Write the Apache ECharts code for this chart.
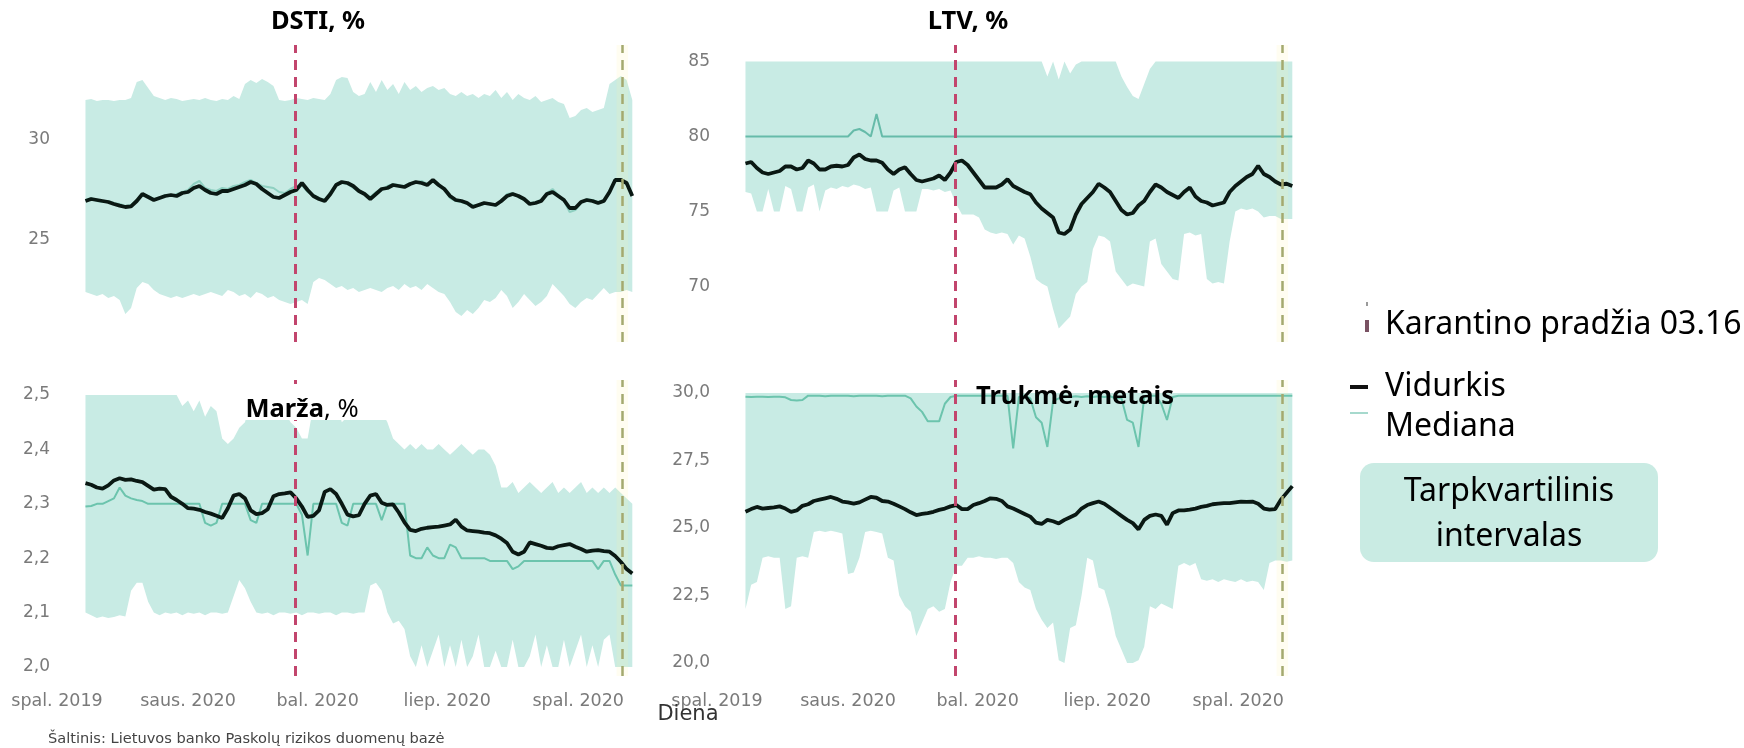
<!DOCTYPE html>
<html><head><meta charset="utf-8">
<script src="https://cdn.jsdelivr.net/npm/echarts@6/dist/echarts.min.js"></script>
<style>html,body{margin:0;padding:0;background:#fff}#c{width:1744px;height:748px}</style>
</head><body><div id="c"></div>
<script>
// x positions: days since 2019-10-01, sampled every 4 days (2019-10-21 .. 2020-11-08)
const startDay = 20, stepDays = 4, nPoints = 97;
const days = Array.from({length: nPoints}, (_, i) => startDay + stepDays * i);
const xTickDays = [0, 92, 183, 274, 366];
const xTickLabels = ['spal. 2019', 'saus. 2020', 'bal. 2020', 'liep. 2020', 'spal. 2020'];
const quarantineDay = 167;   // 2020-03-16
const lastMarkerDay = 397;   // 2020-11-01

const panelTitles = ['DSTI, %', 'LTV, %', 'Marža, %', 'Trukmė, metais'];
const yTicksDSTI = [25, 30];
const yTicksLTV = [70, 75, 80, 85];
const yTicksMarza = [2.0, 2.1, 2.2, 2.3, 2.4, 2.5];
const yTicksTrukme = [20, 22.5, 25, 27.5, 30];

// ---------- DSTI ----------
const dstiMean = [
26.95,27.05,27.0,26.95,26.9,26.8,26.72,26.65,26.68,26.95,
27.3,27.15,27.0,27.1,27.2,27.25,27.2,27.35,27.4,27.6,
27.7,27.5,27.35,27.3,27.45,27.45,27.55,27.65,27.75,27.9,
27.8,27.55,27.35,27.15,27.1,27.25,27.4,27.5,27.85,27.5,
27.2,27.05,26.95,27.3,27.75,27.9,27.85,27.7,27.45,27.3,
27.05,27.3,27.55,27.6,27.75,27.7,27.65,27.8,27.9,27.85,
27.75,28.0,27.75,27.55,27.2,27.0,26.95,26.85,26.65,26.75,
26.85,26.8,26.75,26.95,27.2,27.3,27.2,27.05,26.8,26.85,
26.95,27.3,27.4,27.2,27.0,26.6,26.6,26.9,27.0,26.95,
26.85,26.95,27.4,28.0,28.0,27.85,27.2];
const dstiMedian = [
27.0,27.1,26.95,26.9,26.95,26.85,26.8,26.7,26.75,27.0,
27.25,27.2,27.05,27.1,27.25,27.2,27.3,27.4,27.5,27.8,
27.95,27.6,27.5,27.45,27.6,27.55,27.7,27.75,27.9,28.0,
27.85,27.7,27.65,27.6,27.4,27.35,27.55,27.7,27.75,27.4,
27.25,27.1,27.0,27.4,27.8,27.85,27.8,27.6,27.4,27.35,
27.15,27.4,27.5,27.7,27.8,27.75,27.7,27.85,27.85,27.95,
27.8,27.95,27.7,27.6,27.1,26.95,26.9,26.8,26.75,26.7,
26.8,26.85,26.7,26.9,27.3,27.35,27.15,27.0,26.85,26.9,
27.0,27.35,27.55,27.25,26.95,26.4,26.5,26.85,27.05,27.0,
26.9,27.0,27.35,28.05,27.95,27.8,27.3];
const dstiQ1 = [
22.4,22.3,22.2,22.3,22.1,22.2,22.0,21.3,21.6,22.6,
22.9,22.8,22.5,22.3,22.2,22.1,22.2,22.1,22.2,22.3,
22.2,22.3,22.4,22.3,22.2,22.5,22.4,22.2,22.3,22.1,
22.4,22.3,22.1,22.2,22.0,21.9,21.8,21.9,22.0,21.8,
22.9,23.1,23.0,22.8,22.6,22.7,22.5,22.6,22.4,22.5,
22.6,22.5,22.4,22.6,22.7,22.5,22.8,22.6,22.7,22.5,
22.8,22.6,22.4,22.3,21.9,21.4,21.2,21.5,21.3,21.6,
22.0,21.9,22.1,22.5,22.2,21.6,21.9,22.3,22.0,21.7,
21.9,22.2,22.8,22.5,22.2,21.8,21.6,21.9,22.1,22.0,
22.3,22.6,22.3,22.4,22.4,22.5,22.4];
const dstiQ3 = [
32.0,32.05,31.95,32.0,32.0,31.95,32.0,32.0,32.1,32.9,
33.0,32.6,32.2,32.1,32.0,32.1,32.05,31.95,32.0,32.05,
32.0,32.1,32.0,31.95,32.05,32.0,32.2,32.05,32.8,33.0,
32.85,33.05,32.9,32.7,32.0,31.95,32.0,32.1,32.05,32.0,
32.1,32.05,32.0,32.3,33.0,33.15,33.1,32.4,32.2,32.3,
32.9,32.4,33.0,32.5,32.8,32.3,32.9,32.5,32.7,32.4,
32.6,32.7,32.5,32.6,32.3,32.2,32.4,32.2,32.3,32.1,
32.3,32.2,32.5,32.1,32.4,32.0,32.3,32.1,32.0,32.2,
31.9,32.0,32.1,31.9,31.8,31.1,31.2,31.5,31.6,31.4,
31.5,31.6,32.8,33.0,33.2,33.0,32.0];

// ---------- LTV ----------
const ltvMean = [
78.2,78.3,77.9,77.6,77.5,77.6,77.7,78.0,78.0,77.8,
77.9,78.4,78.2,77.8,77.8,78.0,78.05,78.0,78.1,78.6,
78.8,78.5,78.4,78.4,78.25,77.8,77.5,77.8,77.95,77.5,
77.1,77.0,77.1,77.2,77.4,77.1,77.6,78.3,78.4,78.1,
77.6,77.1,76.6,76.6,76.6,76.8,77.15,76.7,76.5,76.3,
76.15,75.6,75.2,74.9,74.6,73.6,73.5,73.8,74.8,75.5,
75.9,76.3,76.85,76.6,76.3,75.7,75.1,74.8,74.9,75.4,
75.7,76.3,76.8,76.6,76.3,76.1,75.9,76.3,76.6,76.0,
75.7,75.6,75.4,75.5,75.6,76.3,76.7,77.0,77.3,77.5,
78.05,77.5,77.3,77.0,76.8,76.85,76.7];
const ltvMedian = [
80,80,80,80,80,80,80,80,80,80,
80,80,80,80,80,80,80,80,80,80.4,
80.5,80.3,80,81.5,80,80,80,80,80,80,
80,80,80,80,80,80,80,80,80,80,
80,80,80,80,80,80,80,80,80,80,
80,80,80,80,80,80,80,80,80,80,
80,80,80,80,80,80,80,80,80,80,
80,80,80,80,80,80,80,80,80,80,
80,80,80,80,80,80,80,80,80,80,
80,80,80,80,80,80,80];
const ltvQ1 = [
76.3,76.2,75.0,75.0,76.5,75.0,75.0,76.7,76.5,75.0,
75.0,76.6,76.8,75.0,76.4,76.6,76.5,76.7,76.6,76.8,
76.7,76.5,76.6,75.0,75.0,75.0,76.4,76.6,75.0,75.0,
75.0,76.5,76.5,76.4,76.5,76.3,76.4,75.5,74.8,74.8,
74.8,74.6,73.8,73.6,73.5,73.6,73.5,72.8,73.4,73.2,
72.0,70.5,70.2,70.0,68.5,67.2,67.6,68.0,69.5,70.0,
70.3,72.5,73.4,73.3,73.0,71.0,70.5,70.0,70.2,70.1,
70.0,73.0,73.2,71.5,71.0,70.5,70.4,73.5,73.6,73.4,
73.5,70.5,70.2,70.3,70.2,73.0,75.0,75.2,75.1,75.2,
75.0,74.6,74.7,74.7,74.5,74.5,74.5];
const ltvQ3 = [
85,85,85,85,85,85,85,85,85,85,
85,85,85,85,85,85,85,85,85,85,
85,85,85,85,85,85,85,85,85,85,
85,85,85,85,85,85,85,85,85,85,
85,85,85,85,85,85,85,85,85,85,
85,85,85,84.0,85,83.8,85,84.2,84.8,85,
85,85,85,85,85,85,84.0,83.3,82.7,82.5,
83.5,84.5,85,85,85,85,85,85,85,85,
85,85,85,85,85,85,85,85,85,85,
85,85,85,85,85,85,85];

// ---------- Marža ----------
const marzaMean = [
2.338,2.335,2.330,2.328,2.334,2.343,2.347,2.344,2.345,2.342,
2.340,2.333,2.326,2.328,2.327,2.313,2.307,2.300,2.292,2.291,
2.289,2.285,2.282,2.278,2.274,2.292,2.315,2.318,2.310,2.288,
2.281,2.283,2.290,2.314,2.318,2.319,2.321,2.310,2.295,2.276,
2.278,2.288,2.322,2.327,2.318,2.300,2.280,2.277,2.279,2.300,
2.315,2.318,2.302,2.298,2.299,2.284,2.266,2.252,2.250,2.254,
2.256,2.257,2.258,2.260,2.262,2.271,2.258,2.251,2.250,2.249,
2.247,2.246,2.242,2.236,2.228,2.212,2.207,2.212,2.229,2.226,
2.223,2.219,2.218,2.222,2.224,2.226,2.221,2.217,2.212,2.214,
2.215,2.213,2.212,2.204,2.193,2.180,2.172];
const marzaMedian = [
2.295,2.296,2.300,2.300,2.305,2.310,2.330,2.315,2.310,2.307,
2.305,2.300,2.300,2.300,2.300,2.300,2.300,2.300,2.300,2.300,
2.300,2.265,2.260,2.265,2.300,2.300,2.300,2.300,2.300,2.270,
2.265,2.300,2.300,2.300,2.300,2.300,2.300,2.300,2.280,2.205,
2.300,2.300,2.300,2.300,2.300,2.265,2.260,2.300,2.300,2.300,
2.300,2.300,2.270,2.300,2.300,2.300,2.300,2.205,2.200,2.200,
2.220,2.205,2.200,2.200,2.225,2.220,2.200,2.200,2.200,2.200,
2.200,2.195,2.195,2.195,2.195,2.180,2.185,2.195,2.195,2.195,
2.195,2.195,2.195,2.195,2.195,2.195,2.195,2.195,2.195,2.195,
2.180,2.195,2.195,2.170,2.150,2.150,2.150];
const marzaQ1 = [
2.100,2.095,2.090,2.093,2.090,2.092,2.095,2.093,2.140,2.155,
2.155,2.120,2.100,2.095,2.100,2.098,2.100,2.095,2.100,2.098,
2.100,2.095,2.100,2.100,2.098,2.100,2.130,2.160,2.145,2.120,
2.100,2.098,2.100,2.095,2.100,2.100,2.098,2.100,2.095,2.100,
2.100,2.098,2.100,2.100,2.095,2.100,2.100,2.098,2.100,2.100,
2.150,2.155,2.140,2.100,2.080,2.085,2.070,2.020,2.000,2.040,
2.000,2.030,2.060,2.000,2.040,2.000,2.050,2.000,2.020,2.060,
2.000,2.000,2.030,2.000,2.000,2.050,2.000,2.000,2.020,2.060,
2.000,2.040,2.000,2.000,2.050,2.000,2.030,2.060,2.000,2.040,
2.000,2.050,2.060,2.000,2.000,2.000,2.000];
const marzaQ3 = [
2.50,2.50,2.50,2.50,2.50,2.50,2.50,2.50,2.50,2.50,
2.50,2.50,2.50,2.50,2.50,2.50,2.50,2.48,2.49,2.47,
2.49,2.46,2.48,2.47,2.42,2.41,2.42,2.44,2.45,2.49,
2.50,2.49,2.47,2.48,2.50,2.47,2.45,2.44,2.42,2.42,
2.48,2.49,2.50,2.50,2.49,2.45,2.46,2.50,2.50,2.49,
2.47,2.46,2.47,2.45,2.42,2.41,2.40,2.41,2.40,2.41,
2.40,2.40,2.41,2.40,2.39,2.40,2.41,2.40,2.39,2.40,
2.40,2.39,2.37,2.33,2.33,2.34,2.32,2.33,2.34,2.33,
2.32,2.33,2.34,2.32,2.33,2.32,2.33,2.34,2.32,2.33,
2.32,2.33,2.32,2.33,2.32,2.31,2.30];

// ---------- Trukmė ----------
const trukmeMean = [
25.6,25.7,25.78,25.72,25.74,25.76,25.8,25.72,25.6,25.65,
25.82,25.88,26.0,26.05,26.1,26.15,26.08,25.98,25.95,25.9,
25.95,26.05,26.15,26.12,26.0,25.98,25.9,25.8,25.7,25.58,
25.48,25.52,25.55,25.6,25.67,25.72,25.8,25.85,25.7,25.7,
25.85,25.92,26.0,26.1,26.08,26.0,25.8,25.72,25.62,25.52,
25.42,25.2,25.15,25.3,25.25,25.17,25.3,25.4,25.5,25.72,
25.85,25.92,25.98,25.9,25.75,25.6,25.45,25.3,25.18,24.95,
25.3,25.45,25.5,25.45,25.12,25.55,25.65,25.65,25.68,25.72,
25.78,25.82,25.88,25.9,25.92,25.92,25.95,25.98,25.97,25.98,
25.9,25.72,25.68,25.7,26.05,26.3,26.55];
const trukmeMedian = [
29.86,29.85,29.86,29.86,29.85,29.86,29.86,29.84,29.74,29.72,
29.74,29.9,29.9,29.9,29.88,29.9,29.9,29.9,29.9,29.88,
29.9,29.9,29.9,29.9,29.88,29.9,29.9,29.9,29.9,29.8,
29.5,29.3,28.95,28.95,28.95,29.6,29.85,29.9,29.9,29.9,
29.9,29.9,29.9,29.9,29.9,29.9,29.9,27.95,29.85,29.9,
29.8,29.1,28.9,28.0,29.7,29.8,29.88,29.85,29.88,29.85,
29.88,29.85,29.88,29.85,29.88,29.8,29.8,29.0,28.9,28.0,
29.85,29.9,29.9,29.6,29.0,29.85,29.9,29.9,29.9,29.9,
29.9,29.9,29.9,29.9,29.9,29.9,29.9,29.9,29.9,29.9,
29.9,29.9,29.9,29.9,29.9,29.9,29.9];
const trukmeQ1 = [
22.0,22.9,23.0,23.9,23.95,23.9,23.9,22.0,22.1,23.9,
23.95,23.9,24.85,24.9,24.85,24.9,24.85,24.8,23.3,23.35,
23.9,24.85,24.9,24.85,24.8,23.9,23.8,22.5,22.1,21.9,
21.0,21.5,22.0,22.1,21.9,22.0,23.0,23.6,23.6,23.9,
23.9,23.95,23.9,23.9,23.85,23.9,23.9,23.7,23.0,22.8,
22.7,22.0,21.6,21.3,21.5,20.1,20.0,21.3,21.4,22.5,
23.9,23.8,22.8,22.7,22.0,21.0,20.5,20.0,20.0,20.1,
20.6,22.1,22.0,22.2,22.1,22.0,23.6,23.7,23.6,23.7,
23.1,23.05,23.1,23.0,23.1,23.05,23.0,23.1,23.0,23.05,
23.0,22.7,23.7,23.8,23.8,23.75,23.8];
const trukmeQ3 = [
30,30,30,30,30,30,30,30,30,30,
30,30,30,30,30,30,30,30,30,30,
30,30,30,30,30,30,30,30,30,30,
30,30,30,30,30,30,30,30,30,30,
30,30,30,30,30,30,30,30,30,30,
30,30,30,30,30,30,30,30,30,30,
30,30,30,30,30,30,30,30,30,30,
30,30,30,30,30,30,30,30,30,30,
30,30,30,30,30,30,30,30,30,30,
30,30,30,30,30,30,30];

// ---------- layout / styling ----------
const BAND = '#c8ebe4', MEAN = '#0a1813', AXIS_TXT = '#7a7a7a';
const LBL_FONT = 'DejaVu Sans';
const panels = [
  {mean: dstiMean, median: dstiMedian, q1: dstiQ1, q3: dstiQ3, ticks: yTicksDSTI, dec: 0,
   grid: {left: 57, top: 45, width: 581, height: 297}, min: 19.9, max: 34.75, showX: false, medColor: '#8fd0c1'},
  {mean: ltvMean, median: ltvMedian, q1: ltvQ1, q3: ltvQ3, ticks: yTicksLTV, dec: 0,
   grid: {left: 717, top: 45, width: 581, height: 297}, min: 66.3, max: 86.1, showX: false, medColor: '#66bba9'},
  {mean: marzaMean, median: marzaMedian, q1: marzaQ1, q3: marzaQ3, ticks: yTicksMarza, dec: 1,
   grid: {left: 57, top: 380, width: 581, height: 296}, min: 1.9835, max: 2.5276, showX: true, medColor: '#6cc4ad'},
  {mean: trukmeMean, median: trukmeMedian, q1: trukmeQ1, q3: trukmeQ3, ticks: yTicksTrukme, dec: 1,
   grid: {left: 717, top: 380, width: 581, height: 296}, min: 19.52, max: 30.48, showX: true, medColor: '#6cc4ad'}
];

const grids = [], xAxes = [], yAxes = [], series = [];
panels.forEach((p, k) => {
  grids.push(Object.assign({containLabel: false, outerBoundsMode: 'none'}, p.grid));
  xAxes.push({
    type: 'value', gridIndex: k, min: 0, max: 408,
    axisLine: {show: false}, axisTick: {show: false}, splitLine: {show: false},
    axisLabel: {show: p.showX, customValues: xTickDays, margin: 16, fontSize: 17.5, fontFamily: LBL_FONT, color: AXIS_TXT,
      formatter: v => { const j = xTickDays.indexOf(Math.round(v)); return j >= 0 ? xTickLabels[j] : ''; }}
  });
  yAxes.push({
    type: 'value', gridIndex: k, min: p.min, max: p.max,
    axisLine: {show: false}, axisTick: {show: false}, splitLine: {show: false},
    axisLabel: {customValues: p.ticks, margin: 7, fontSize: 17, fontFamily: LBL_FONT, color: AXIS_TXT,
      formatter: v => p.dec ? Number(v).toFixed(p.dec).replace('.', ',') : String(Math.round(v))}
  });
  // interquartile band: polygon along Q3 then back along Q1, positioned by the axes' scales
  series.push({
    type: 'custom', xAxisIndex: k, yAxisIndex: k, silent: true, z: 1, animation: false,
    data: [[days[0], p.q1[0]]],
    renderItem: (params, api) => {
      const pts = [];
      for (let i = 0; i < days.length; i++) pts.push(api.coord([days[i], p.q3[i]]));
      for (let i = days.length - 1; i >= 0; i--) pts.push(api.coord([days[i], p.q1[i]]));
      return {type: 'polygon', shape: {points: pts}, style: {fill: BAND}};
    }
  });
  const base = {type: 'line', xAxisIndex: k, yAxisIndex: k, symbol: 'none', silent: true, animation: false};
  series.push(Object.assign({}, base, {
    z: 3, lineStyle: {color: p.medColor, width: 2},
    data: days.map((d, i) => [d, p.median[i]]),
    markArea: {silent: true, z: 2, itemStyle: {color: 'rgba(255,240,170,0.16)'},
      data: [[{xAxis: lastMarkerDay - 4}, {xAxis: lastMarkerDay + 4}]]},
    markLine: {silent: true, symbol: ['none', 'none'], label: {show: false}, animation: false,
      data: [
        {xAxis: quarantineDay, lineStyle: {color: '#c2456d', width: 3, type: [10, 7]}},
        {xAxis: lastMarkerDay, lineStyle: {color: '#a4a96f', width: 2.5, type: [10, 7]}}
      ]}
  }));
  series.push(Object.assign({}, base, {
    z: 4, lineStyle: {color: MEAN, width: 3.8},
    data: days.map((d, i) => [d, p.mean[i]])
  }));
});

function txt(text, x, y, font, fill, align) {
  return {type: 'text', x: x, y: y, silent: true, z: 100,
    style: {text: text, font: font, fill: fill, textAlign: align || 'center', textVerticalAlign: 'middle',
      align: align || 'center', verticalAlign: 'middle'}};
}
const TITLE_FONT = 'bold 25.5px "Noto Sans"';
const LEG_FONT = '32px "Noto Sans"';
const graphic = [
  txt(panelTitles[0], 318, 22, TITLE_FONT, '#000'),
  txt(panelTitles[1], 968, 22, TITLE_FONT, '#000'),
  {type: 'rect', shape: {x: 238, y: 384, width: 160, height: 36}, style: {fill: '#fff'}, z: 99, silent: true},
  {type: 'text', x: 302, y: 410, silent: true, z: 100,
    style: {text: '{b|Marža}{r|, %}', textAlign: 'center', textVerticalAlign: 'middle', align: 'center', verticalAlign: 'middle',
      rich: {b: {fontWeight: 'bold', fontSize: 25.5, fontFamily: 'Noto Sans', fill: '#000'},
             r: {fontSize: 25.5, fontFamily: 'Noto Sans', fill: '#000'}}}},
  txt(panelTitles[3], 1075, 397, TITLE_FONT, '#000'),
  txt('Diena', 688, 715, '21px "DejaVu Sans"', '#333'),
  txt('Šaltinis: Lietuvos banko Paskolų rizikos duomenų bazė', 48, 739, '14.6px "DejaVu Sans"', '#444', 'left'),
  // legend
  {type: 'rect', shape: {x: 1366, y: 302, width: 2, height: 4}, style: {fill: '#9a9a9a'}, silent: true, z: 100},
  {type: 'rect', shape: {x: 1365, y: 320, width: 4, height: 12}, style: {fill: '#7a5263'}, silent: true, z: 100},
  txt('Karantino pradžia 03.16', 1385, 325, LEG_FONT, '#000', 'left'),
  {type: 'rect', shape: {x: 1350, y: 385, width: 18, height: 4}, style: {fill: '#111'}, silent: true, z: 100},
  txt('Vidurkis', 1385, 387, LEG_FONT, '#000', 'left'),
  {type: 'rect', shape: {x: 1350, y: 412, width: 18, height: 2}, style: {fill: '#a6d9cd'}, silent: true, z: 100},
  txt('Mediana', 1385, 427, LEG_FONT, '#000', 'left'),
  {type: 'rect', shape: {x: 1360, y: 463, width: 298, height: 99, r: 14}, style: {fill: '#c9ebe3'}, silent: true, z: 99},
  txt('Tarpkvartilinis', 1509, 492, LEG_FONT, '#000'),
  txt('intervalas', 1509, 537, LEG_FONT, '#000')
];

const chart = echarts.init(document.getElementById('c'), null, {renderer: 'canvas'});
chart.setOption({
  backgroundColor: '#fff',
  animation: false,
  grid: grids, xAxis: xAxes, yAxis: yAxes, series: series, graphic: graphic
});
</script></body></html>
